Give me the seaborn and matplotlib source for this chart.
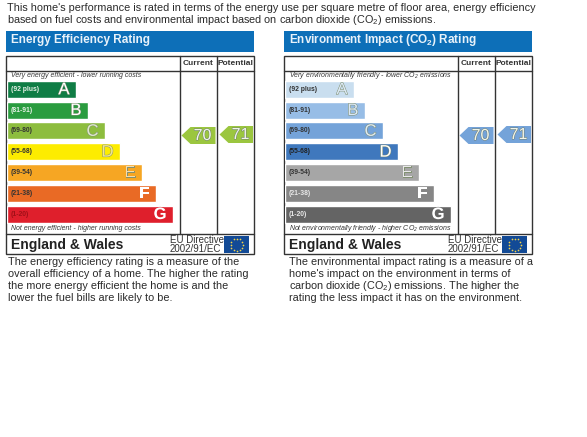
import numpy as np
import pandas as pd
import seaborn as sns
import matplotlib
matplotlib.use("Agg")
import matplotlib.pyplot as plt
from matplotlib.patches import Rectangle, Polygon
import matplotlib.patheffects as pe

sns.set_theme(style="white")
plt.rcParams['font.family'] = ['Liberation Sans', 'DejaVu Sans']
plt.rcParams['mathtext.default'] = 'regular'

bands = ["(92 plus)", "(81-91)", "(69-80)", "(55-68)", "(39-54)", "(21-38)", "(1-20)"]
letters = ["A", "B", "C", "D", "E", "F", "G"]
energy_lengths = [69, 81, 98, 113, 135, 149, 166]
co2_lengths = [69, 80, 98, 113, 134, 149, 166]
energy_colors = ["#0f7d45", "#2a9c3f", "#8dbd3e", "#fdec00", "#f6a623", "#e96a25", "#df1f2c"]
co2_colors = ["#c9deef", "#97bde6", "#74a3d9", "#3f78bd", "#a6a6a6", "#868686", "#646464"]
energy_band_text = ["#e8f2e8", "#e8f2e8", "#333333", "#333333", "#333333", "#333333", "#a01018"]
co2_band_text = ["#333333", "#333333", "#333333", "#222222", "#333333", "#e8e8e8", "#e8e8e8"]
energy_letter_text = ["white", "white", "#dfeac8", "#f4e88a", "#f4dcae", "white", "white"]
co2_letter_text = ["#dbe8f4", "#dbe8f4", "#dbe8f4", "white", "#e8e8e8", "white", "white"]
current_value = 70
potential_value = 71

W, H = 587, 437
fig = plt.figure(figsize=(W / 100, H / 100), dpi=100, facecolor="white")
bg = fig.add_axes([0, 0, 1, 1])
bg.set_xlim(0, W)
bg.set_ylim(H, 0)
bg.axis("off")


def panel(x0, title, top_note, bottom_note, lengths, colors, band_text, letter_text, arrow_color, col1, col2, para_x, para):
    x1 = x0 + 248
    bg.add_patch(Rectangle((x0, 31), 248, 20.5, fc="#0d6fb8", ec="none"))
    bg.text(x0 + 5, 40.5, title, color="#e8f2fa", fontsize=8.5, fontweight="bold", va="center", ha="left")
    # frame
    bg.add_patch(Rectangle((x0, 55.5), 248, 198.5, fc="white", ec="#333333", lw=1.0))
    for y in (71, 234):
        bg.plot([x0, x1], [y, y], color="#333333", lw=1.0)
    for x in (col1, col2):
        bg.plot([x, x], [55.5, 234], color="#333333", lw=1.0)
    bg.text((col1 + col2) / 2, 63.3, "Current", fontsize=6.0, fontweight="bold", color="#333333", ha="center", va="center")
    bg.text((col2 + x1) / 2, 63.3, "Potential", fontsize=6.0, fontweight="bold", color="#333333", ha="center", va="center")
    bg.text(x0 + 5, 75.5, top_note, fontsize=5.0, style="italic", color="#333333", va="center")
    bg.text(x0 + 5, 228.5, bottom_note, fontsize=5.0, style="italic", color="#333333", va="center")

    # bars, one data unit is one pixel of bar length
    ax = fig.add_axes([(x0 + 0.5) / W, 1 - 224.5 / H, 172 / W, 145.6 / H], facecolor="none")
    df = pd.DataFrame({"band": bands, "length": lengths})
    sns.barplot(data=df, x="length", y="band", hue="band", palette=colors, order=bands,
                hue_order=bands, width=0.81, dodge=False, legend=False, ax=ax, saturation=1)
    ax.set_xlim(0, 172)
    ax.axis("off")
    for i, (b, l) in enumerate(zip(bands, lengths)):
        ax.text(4.5, i, b, fontsize=4.9, fontweight="bold", color=band_text[i], va="center", ha="left")
        ax.text(l - 6, i + 0.02, letters[i], fontsize=12, color=letter_text[i], va="center", ha="right",
                fontweight="bold" if i in (5, 6) else "normal",
                path_effects=[pe.withStroke(linewidth=0.7, foreground=colors[i] if i in (5, 6) else "#7f8f70")])

    # arrows
    for left, right, val, yc in ((col1 + 2, col2 - 1, current_value, 135.5), (col2 + 3, x1 - 1, potential_value, 134.5)):
        bg.add_patch(Polygon([(left, yc), (left + 9, yc - 8.5), (right, yc - 8.5), (right, yc + 8.5), (left + 9, yc + 8.5)],
                             closed=True, fc=arrow_color, ec="none"))
        bg.text(left + 21, yc, str(val), fontsize=11.5, color="#f2f5ea", va="center", ha="center",
                path_effects=[pe.withStroke(linewidth=0.7, foreground="#6f7f70")])

    # footer
    bg.text(x0 + 5, 244.5, "England & Wales", fontsize=10.0, fontweight="bold", color="#222222", va="center")
    bg.text(x0 + 164, 240, "EU Directive", fontsize=7.0, color="#333333", va="center")
    bg.text(x0 + 164, 248.7, "2002/91/EC", fontsize=7.0, color="#333333", va="center")
    bg.add_patch(Rectangle((x0 + 218, 236), 25, 17, fc="#124a96", ec="none"))
    ang = np.deg2rad(np.arange(0, 360, 30))
    bg.scatter(x0 + 230.5 + 6 * np.cos(ang), 244.5 + 6 * np.sin(ang), s=1.5, c="#f3d24a", linewidths=0)

    # paragraph
    for i, line in enumerate(para):
        bg.text(para_x, 262 + i * 12, line, fontsize=7.86, color="#2a2a2a", va="center")


bg.text(7, 8.3, "This home's performance is rated in terms of the energy use per square metre of floor area, energy efficiency",
        fontsize=7.86, color="#2a2a2a", va="center")
bg.text(7, 20, "based on fuel costs and environmental impact based on carbon dioxide (CO$_2$) emissions.",
        fontsize=7.86, color="#2a2a2a", va="center")

panel(6, "Energy Efficiency Rating",
      "Very energy efficient - lower running costs", "Not energy efficient - higher running costs",
      energy_lengths, energy_colors, energy_band_text, energy_letter_text, "#9bc63f", 179.5, 216.5, 8,
      ["The energy efficiency rating is a measure of the",
       "overall efficiency of a home. The higher the rating",
       "the more energy efficient the home is and the",
       "lower the fuel bills are likely to be."])
panel(284, "Environment Impact (CO$_2$) Rating",
      "Very environmentally friendly - lower CO$_2$ emissions", "Not environmentally friendly - higher CO$_2$ emissions",
      co2_lengths, co2_colors, co2_band_text, co2_letter_text, "#74a3d9", 457.5, 494.5, 289,
      ["The environmental impact rating is a measure of a",
       "home's impact on the environment in terms of",
       "carbon dioxide (CO$_2$) emissions. The higher the",
       "rating the less impact it has on the environment."])

fig.savefig("out.png", dpi=100, facecolor="white")
